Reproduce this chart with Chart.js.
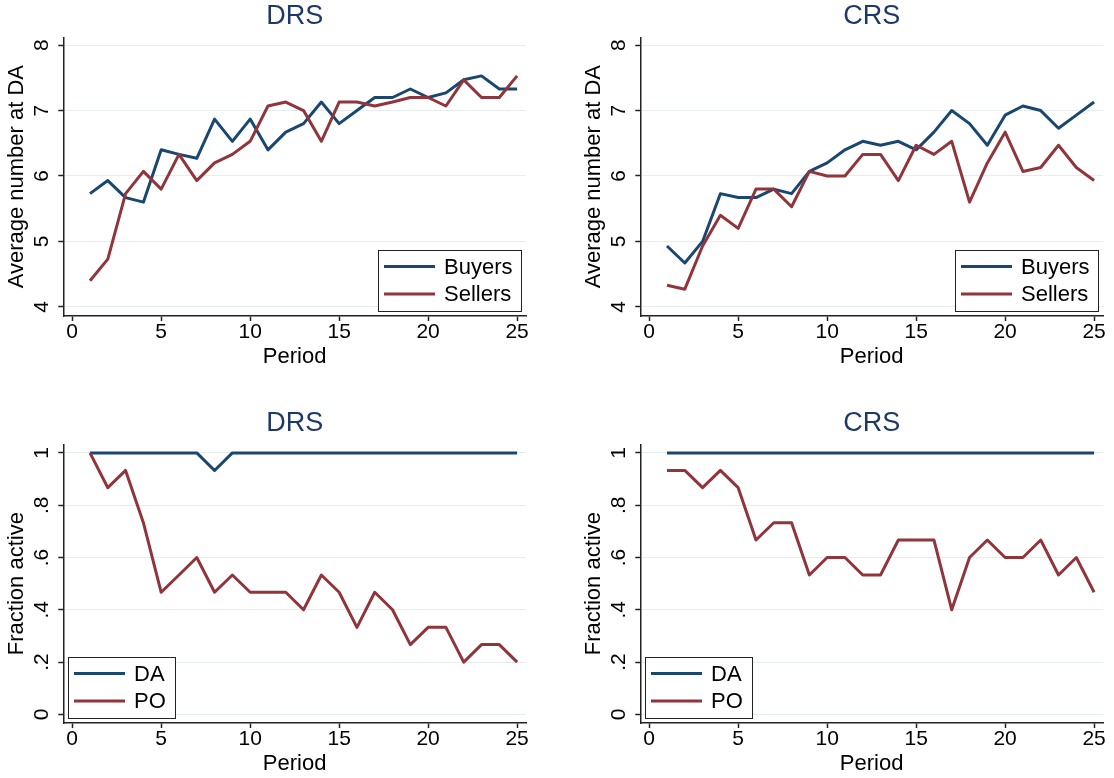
<!DOCTYPE html>
<html><head><meta charset="utf-8">
<script src="https://cdn.jsdelivr.net/npm/chart.js@4"></script>
<style>
html,body{margin:0;padding:0;background:#fff;}
body{width:1114px;height:778px;position:relative;overflow:hidden;}
.panel{position:absolute;width:537px;height:371px;}
canvas{display:block;}
</style></head><body>
<div class="panel" style="left:0;top:0"><canvas id="c1" width="537" height="371"></canvas></div>
<div class="panel" style="left:577px;top:0"><canvas id="c2" width="537" height="371"></canvas></div>
<div class="panel" style="left:0;top:407px"><canvas id="c3" width="537" height="371"></canvas></div>
<div class="panel" style="left:577px;top:407px"><canvas id="c4" width="537" height="371"></canvas></div>
<script>
// ---- data ----
const periods = [1,2,3,4,5,6,7,8,9,10,11,12,13,14,15,16,17,18,19,20,21,22,23,24,25];
const xTicks = [0,5,10,15,20,25];

const drsBuyers  = [5.73,5.93,5.67,5.6,6.4,6.33,6.27,6.87,6.53,6.87,6.4,6.67,6.8,7.13,6.8,7.0,7.2,7.2,7.33,7.2,7.27,7.47,7.53,7.33,7.33];
const drsSellers = [4.4,4.73,5.73,6.07,5.8,6.33,5.93,6.2,6.33,6.53,7.07,7.13,7.0,6.53,7.13,7.13,7.07,7.13,7.2,7.2,7.07,7.47,7.2,7.2,7.53];
const crsBuyers  = [4.93,4.67,5.0,5.73,5.67,5.67,5.8,5.73,6.07,6.2,6.4,6.53,6.47,6.53,6.4,6.67,7.0,6.8,6.47,6.93,7.07,7.0,6.73,6.93,7.13];
const crsSellers = [4.33,4.27,4.93,5.4,5.2,5.8,5.8,5.53,6.07,6.0,6.0,6.33,6.33,5.93,6.47,6.33,6.53,5.6,6.2,6.67,6.07,6.13,6.47,6.13,5.93];

const drsDA = [1,1,1,1,1,1,1,0.933,1,1,1,1,1,1,1,1,1,1,1,1,1,1,1,1,1];
const drsPO = [1,0.867,0.933,0.733,0.467,0.533,0.6,0.467,0.533,0.467,0.467,0.467,0.4,0.533,0.467,0.333,0.467,0.4,0.267,0.333,0.333,0.2,0.267,0.267,0.2];
const crsDA = [1,1,1,1,1,1,1,1,1,1,1,1,1,1,1,1,1,1,1,1,1,1,1,1,1];
const crsPO = [0.933,0.933,0.867,0.933,0.867,0.667,0.733,0.733,0.533,0.6,0.6,0.533,0.533,0.667,0.667,0.667,0.4,0.6,0.667,0.6,0.6,0.667,0.533,0.6,0.467];

const yTicksNum = [4,5,6,7,8];
const yLabelsNum = ['4','5','6','7','8'];
const yTicksFrac = [0,0.2,0.4,0.6,0.8,1];
const yLabelsFrac = ['0','.2','.4','.6','.8','1'];

// ---- style ----
const FAMILY = '"Liberation Sans", Arial, Helvetica, sans-serif';
const NAVY = '#1a476f';
const MAROON = '#90353b';
const TITLE_COLOR = '#1f3868';
const GRID = '#e5edef';
const AXIS = '#222222';
const TICK_SIZE = 21;
const LABEL_SIZE = 22;

Chart.defaults.font.family = FAMILY;
Chart.defaults.color = '#000';

const mctx = document.createElement('canvas').getContext('2d');
mctx.font = TICK_SIZE + 'px ' + FAMILY;

const boxLegend = {
  id: 'boxLegend',
  afterDatasetsDraw(chart, args, opts) {
    const ctx = chart.ctx, ca = chart.chartArea;
    ctx.save();
    ctx.font = LABEL_SIZE + 'px ' + FAMILY;
    const items = chart.data.datasets;
    const tw = Math.max(...items.map(d => ctx.measureText(d.label).width));
    const w = Math.round(6 + 51 + 9 + tw + 9), h = 61;
    const x = Math.round(opts.corner === 'right' ? ca.right - 5 - w : ca.left + 5);
    const y = Math.round(ca.bottom - 5 - h);
    ctx.fillStyle = '#fff';
    ctx.fillRect(x, y, w, h);
    ctx.strokeStyle = AXIS; ctx.lineWidth = 1;
    ctx.strokeRect(x + 0.5, y + 0.5, w, h);
    items.forEach((d, i) => {
      const cy = y + 16.5 + i * 27.5;
      ctx.strokeStyle = d.borderColor; ctx.lineWidth = 3;
      ctx.beginPath(); ctx.moveTo(x + 6, cy); ctx.lineTo(x + 57, cy); ctx.stroke();
      ctx.fillStyle = '#000'; ctx.textBaseline = 'middle'; ctx.textAlign = 'left';
      ctx.fillText(d.label, x + 66, cy + 1);
    });
    ctx.restore();
  }
};

function makeChart(id, title, yTitle, yMin, yMax, yTickVals, yTickLabels, series, corner) {
  const widest = Math.max(...yTickLabels.map(l => mctx.measureText(l).width));
  return new Chart(document.getElementById(id), {
    type: 'line',
    data: {
      datasets: series.map((s, k) => ({
        label: s.label,
        data: periods.map((p, i) => ({x: p, y: s.values[i]})),
        borderColor: s.color,
        backgroundColor: s.color,
        borderWidth: 3,
        pointRadius: 0,
        fill: false,
        tension: 0,
        borderJoinStyle: 'round',
        order: series.length - k
      }))
    },
    options: {
      responsive: false,
      animation: false,
      events: [],
      layout: {padding: {left: 0, top: 0, right: 11, bottom: 0}},
      plugins: {
        legend: {display: false},
        tooltip: {enabled: false},
        title: {
          display: true, text: title, color: TITLE_COLOR, fullSize: false,
          font: {family: FAMILY, size: 27, weight: 'normal', lineHeight: 1.2},
          padding: {top: 0.5, bottom: 4.4}
        },
        boxLegend: {corner: corner}
      },
      scales: {
        x: {
          type: 'linear', min: -0.5, max: 25.5,
          afterBuildTicks: s => { s.ticks = xTicks.map(v => ({value: v})); },
          afterFit: s => { s.height = 55; },
          ticks: {
            autoSkip: false, minRotation: 0, maxRotation: 0, padding: 1, color: '#000',
            font: {family: FAMILY, size: TICK_SIZE, lineHeight: 1},
            callback: (v, i) => String(xTicks[i])
          },
          grid: {drawOnChartArea: false, tickColor: AXIS, tickLength: 5, tickWidth: 1.5},
          border: {color: AXIS, width: 1.5},
          title: {
            display: true, text: 'Period', color: '#000',
            font: {family: FAMILY, size: LABEL_SIZE, lineHeight: 1.2},
            padding: {top: 0, bottom: 1.2}
          }
        },
        y: {
          type: 'linear', min: yMin, max: yMax,
          afterBuildTicks: s => { s.ticks = yTickVals.map(v => ({value: v})); },
          afterFit: s => { s.width = 63.3; },
          ticks: {
            autoSkip: false, minRotation: 90, maxRotation: 90, crossAlign: 'center',
            padding: 21.5 - 5 - widest / 2, color: '#000',
            font: {family: FAMILY, size: TICK_SIZE, lineHeight: 1},
            callback: (v, i) => yTickLabels[i]
          },
          grid: {color: GRID, lineWidth: 1, tickColor: AXIS, tickLength: 5, tickWidth: 1.5},
          border: {color: AXIS, width: 1.5},
          title: {
            display: true, text: yTitle, color: '#000',
            font: {family: FAMILY, size: LABEL_SIZE, lineHeight: 1.2},
            padding: {top: 3.5, bottom: 0}
          }
        }
      }
    },
    plugins: [boxLegend]
  });
}

makeChart('c1', 'DRS', 'Average number at DA', 3.86, 8.12, yTicksNum, yLabelsNum,
  [{label: 'Buyers', values: drsBuyers, color: NAVY}, {label: 'Sellers', values: drsSellers, color: MAROON}], 'right');
makeChart('c2', 'CRS', 'Average number at DA', 3.86, 8.12, yTicksNum, yLabelsNum,
  [{label: 'Buyers', values: crsBuyers, color: NAVY}, {label: 'Sellers', values: crsSellers, color: MAROON}], 'right');
makeChart('c3', 'DRS', 'Fraction active', -0.033, 1.033, yTicksFrac, yLabelsFrac,
  [{label: 'DA', values: drsDA, color: NAVY}, {label: 'PO', values: drsPO, color: MAROON}], 'left');
makeChart('c4', 'CRS', 'Fraction active', -0.033, 1.033, yTicksFrac, yLabelsFrac,
  [{label: 'DA', values: crsDA, color: NAVY}, {label: 'PO', values: crsPO, color: MAROON}], 'left');
</script>
</body></html>
